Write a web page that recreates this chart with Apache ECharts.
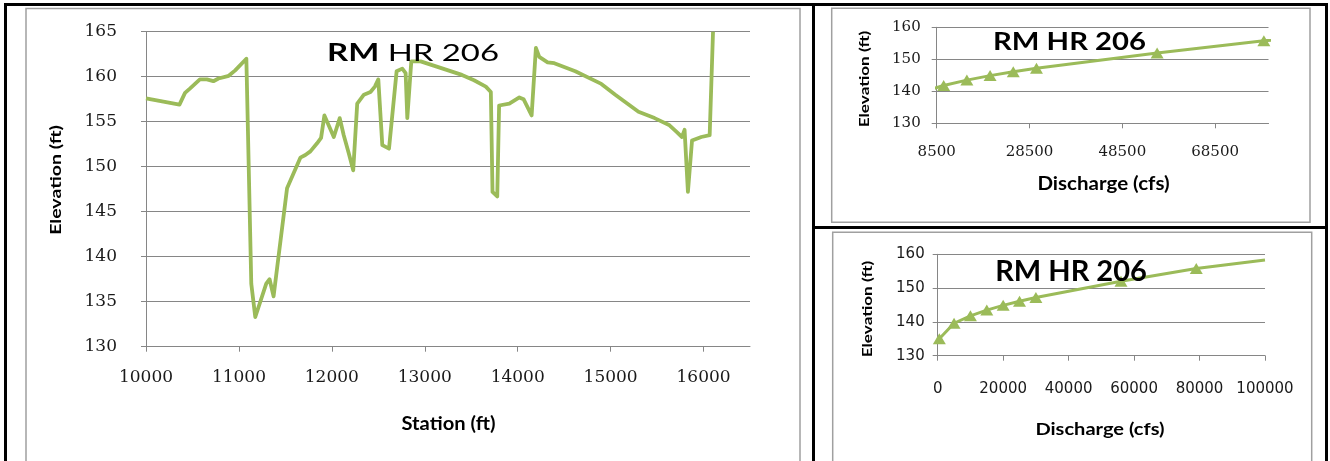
<!DOCTYPE html>
<html>
<head>
<meta charset="utf-8">
<script src="https://cdn.jsdelivr.net/npm/echarts@6/dist/echarts.min.js"></script>
<style>
  html, body { margin: 0; padding: 0; background: #fff; }
  #chart { width: 1330px; height: 461px; }
</style>
</head>
<body>
<div id="chart"></div>
<script>
// Channel profile: station along the reach vs. bed elevation
const stationFt = [10000, 10360, 10420, 10475, 10580, 10655, 10725, 10780, 10890, 10960,
  11080, 11133, 11176, 11294, 11330, 11373, 11518, 11661, 11715, 11769,
  11841, 11884, 11920, 12021, 12085, 12128, 12182, 12230, 12273, 12345,
  12416, 12463, 12500, 12543, 12615, 12697, 12758, 12794, 12812, 12855,
  12956, 13400, 13530, 13657, 13711, 13729, 13780, 13800, 13910, 14018,
  14063, 14150, 14196, 14232, 14322, 14394, 14620, 14900, 15050, 15300,
  15473, 15634, 15707, 15768, 15796, 15832, 15876, 15976, 16066, 16102];
const elevationFt = [157.6, 156.9, 158.2, 158.7, 159.7, 159.7, 159.5, 159.8, 160.1, 160.7,
  162.0, 137.0, 133.3, 137.0, 137.5, 135.6, 147.6, 151.0, 151.3, 151.7,
  152.6, 153.2, 155.7, 153.3, 155.4, 153.5, 151.5, 149.6, 157.0, 158.0,
  158.3, 158.9, 159.7, 152.4, 152.0, 160.6, 160.9, 160.4, 155.4, 161.7,
  161.7, 160.2, 159.6, 158.9, 158.3, 147.2, 146.7, 156.8, 157.0, 157.7,
  157.5, 155.7, 163.2, 162.2, 161.6, 161.5, 160.6, 159.2, 158.0, 156.1,
  155.4, 154.6, 153.9, 153.3, 154.1, 147.2, 152.9, 153.3, 153.5, 165.0];

// Rating curve: discharge vs. water-surface elevation
const dischargeCfs = [500, 5000, 10000, 15000, 20000, 25000, 30000, 56000, 79000];
const stageFt = [135.0, 139.6, 141.8, 143.5, 144.9, 146.1, 147.2, 152.0, 155.8];
// curve carried on past the last computed point (no marker)
const curveEndCfs = 100000;
const curveEndFt = 158.3;

const GREEN = '#9bbb59';
const GRID_GRAY = '#868686';
const TEXT = '#1a1a1a';

const profileData = stationFt.map((s, i) => [s, elevationFt[i]]);
const ratingData = dischargeCfs.map((q, i) => [q, stageFt[i]])
  .concat([{ value: [curveEndCfs, curveEndFt], symbol: 'none' }]);

const plain = v => String(v);

function valueAxis(extra) {
  return Object.assign({
    type: 'value',
    axisLine: { show: true, lineStyle: { color: GRID_GRAY, width: 1 } },
    axisTick: { show: true, inside: false, length: 5, lineStyle: { color: GRID_GRAY } },
    splitLine: { show: false }
  }, extra);
}

// centred, optionally rotated and stretched text label
function label(text, cx, cy, font, sx, sy, rot, rich) {
  return {
    type: 'text', x: cx, y: cy, rotation: rot || 0,
    scaleX: sx, scaleY: sy, z: 10, silent: true,
    style: { text: text, font: font, fill: '#000', align: 'center', verticalAlign: 'middle', rich: rich }
  };
}

const chart = echarts.init(document.getElementById('chart'), null, { renderer: 'canvas' });

chart.setOption({
  backgroundColor: '#ffffff',
  animation: false,
  grid: [
    { left: 146, top: 31.7, width: 604, height: 315 },
    { left: 936.7, top: 27.3, width: 331.8, height: 96 },
    { left: 937.7, top: 254.3, width: 327.3, height: 101.4 }
  ],
  xAxis: [
    valueAxis({
      gridIndex: 0, min: 10000, max: 16500, interval: 1000,
      axisLabel: { formatter: plain, showMaxLabel: false, margin: 22, fontFamily: 'DejaVu Serif', fontSize: 17, color: TEXT }
    }),
    valueAxis({
      gridIndex: 1, min: 8500, max: 80000, interval: 20000,
      axisLabel: { formatter: plain, showMaxLabel: false, margin: 21, fontFamily: 'DejaVu Serif', fontSize: 15, color: TEXT }
    }),
    valueAxis({
      gridIndex: 2, min: 0, max: 100000, interval: 20000,
      axisLabel: { formatter: plain, margin: 26, fontFamily: 'DejaVu Sans', fontSize: 15, color: TEXT }
    })
  ],
  yAxis: [
    valueAxis({
      gridIndex: 0, min: 130, max: 165, interval: 5,
      splitLine: { show: true, lineStyle: { color: GRID_GRAY, width: 1.2 } },
      axisLabel: { formatter: plain, margin: 29, fontFamily: 'DejaVu Serif', fontSize: 17, color: TEXT }
    }),
    valueAxis({
      gridIndex: 1, min: 130, max: 160, interval: 10,
      splitLine: { show: true, lineStyle: { color: GRID_GRAY, width: 1.2 } },
      axisLabel: { formatter: plain, margin: 16, fontFamily: 'DejaVu Serif', fontSize: 15, color: TEXT }
    }),
    valueAxis({
      gridIndex: 2, min: 130, max: 160, interval: 10,
      splitLine: { show: true, lineStyle: { color: GRID_GRAY, width: 1.2 } },
      axisLabel: { formatter: plain, margin: 13, fontFamily: 'DejaVu Sans', fontSize: 15, color: TEXT }
    })
  ],
  series: [
    {
      type: 'line', xAxisIndex: 0, yAxisIndex: 0,
      data: profileData, symbol: 'none', clip: true,
      lineStyle: { color: GREEN, width: 3.8, join: 'round' }
    },
    {
      type: 'line', xAxisIndex: 1, yAxisIndex: 1,
      data: ratingData, clip: true,
      symbol: 'triangle', symbolSize: [13, 11], showAllSymbol: true,
      itemStyle: { color: GREEN },
      lineStyle: { color: GREEN, width: 3 }
    },
    {
      type: 'line', xAxisIndex: 2, yAxisIndex: 2,
      data: ratingData, clip: true,
      symbol: 'triangle', symbolSize: [13, 11], showAllSymbol: true,
      itemStyle: { color: GREEN },
      lineStyle: { color: GREEN, width: 3 }
    }
  ],
  graphic: [
    // panel frames
    { type: 'rect', shape: { x: 26, y: 8.5, width: 774, height: 470 }, style: { fill: 'none', stroke: '#a0a0a0', lineWidth: 1.5 }, silent: true },
    { type: 'rect', shape: { x: 831.7, y: 8.3, width: 478.3, height: 214 }, style: { fill: 'none', stroke: '#a0a0a0', lineWidth: 1.5 }, silent: true },
    { type: 'rect', shape: { x: 832.7, y: 232.3, width: 479, height: 240 }, style: { fill: 'none', stroke: '#a0a0a0', lineWidth: 1.5 }, silent: true },
    // table rules
    { type: 'rect', shape: { x: 4, y: 3, width: 1324, height: 3 }, style: { fill: '#000' }, silent: true },
    { type: 'rect', shape: { x: 4, y: 3, width: 3, height: 470 }, style: { fill: '#000' }, silent: true },
    { type: 'rect', shape: { x: 812, y: 3, width: 3, height: 470 }, style: { fill: '#000' }, silent: true },
    { type: 'rect', shape: { x: 1325, y: 3, width: 3, height: 470 }, style: { fill: '#000' }, silent: true },
    { type: 'rect', shape: { x: 812, y: 226, width: 516, height: 3 }, style: { fill: '#000' }, silent: true },
    // chart titles
    label('{b|RM} HR 206', 413, 53, '24px Lato', 1.37, 1, 0, { b: { font: 'bold 24px Lato', fill: '#000' } }),
    label('RM HR 206', 1069.5, 42, 'bold 25px Lato', 1.17, 1, 0),
    label('RM HR 206', 1071, 272, 'bold 29px Lato', 1.0, 1, 0),
    // axis titles
    label('Station (ft)', 448.5, 424, 'bold 18px Lato', 1.12, 1, 0),
    label('Elevation (ft)', 56, 180, 'bold 15px Lato', 1.3, 1, Math.PI / 2),
    label('Discharge (cfs)', 1103.5, 184.5, 'bold 18px Lato', 1.14, 1, 0),
    label('Elevation (ft)', 865, 79, 'bold 13px Lato', 1.32, 1, Math.PI / 2),
    label('Discharge (cfs)', 1100, 430, 'bold 17px Lato', 1.18, 1, 0),
    label('Elevation (ft)', 867.5, 309, 'bold 13px Lato', 1.32, 1, Math.PI / 2)
  ]
});
</script>
</body>
</html>
